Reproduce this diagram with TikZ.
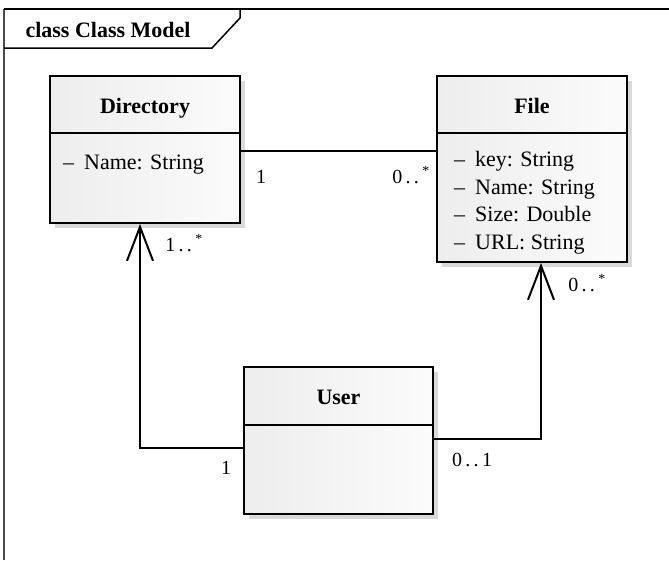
\documentclass[tikz,border=0pt]{standalone}
\usepackage{fontspec}
\setmainfont{Liberation Serif}
\usetikzlibrary{arrows.meta,shadows}
\begin{document}
\begin{tikzpicture}[x=1pt,y=-1pt,
  classbox/.style={draw, line width=2pt, left color=gray!14, right color=gray!3, inner sep=0pt,
    general shadow={fill=gray!30, shadow xshift=5pt, shadow yshift=-5pt}},
  ttl/.style={font=\bfseries\fontsize{22}{26}\selectfont, anchor=base, inner sep=0pt},
  attr/.style={font=\fontsize{22}{26}\selectfont, anchor=base west, inner sep=0pt},
  mult/.style={font=\fontsize{20}{24}\selectfont, anchor=base, inner sep=0pt},
  conn/.style={line width=2pt},
  arr/.style={conn, -{Straight Barb[length=34pt,width=26pt]}}]
\useasboundingbox (0,0) rectangle (669,560);
\fill[white] (0,0) rectangle (669,560);
% frame
\draw[line width=2pt, black!70] (4,560) -- (4,9);
\draw[line width=2pt] (4,9) -- (669,9);
\draw[line width=1.5pt] (4,48) -- (212,48) -- (240,18) -- (240,9);
\node[ttl] (frametitle) at (108,37.5) {class Class Model};
% Directory
\node[classbox, minimum width=190pt, minimum height=147pt] (dir) at (145,149.5) {};
\draw[line width=2pt] (dir.west |- 0,133) coordinate (dirL) -- (dir.east |- 0,133) coordinate (dirR);
\node[ttl] (dirT) at (145,113.5) {Directory};
\node[attr] (dirA1) at (63,169.5) {–\hspace{10pt}Name: String};
% File
\node[classbox, minimum width=190pt, minimum height=186pt] (file) at (532,169) {};
\draw[line width=2pt] (file.west |- 0,133) coordinate (fileL) -- (file.east |- 0,133) coordinate (fileR);
\node[ttl] (fileT) at (532,113.5) {File};
\node[attr] (fileA1) at (454,166.7) {–\hspace{10pt}key: String};
\node[attr] (fileA2) at (454,194.2) {–\hspace{10pt}Name: String};
\node[attr] (fileA3) at (454,221.7) {–\hspace{10pt}Size: Double};
\node[attr] (fileA4) at (454,249.2) {–\hspace{10pt}URL: String};
% User
\node[classbox, minimum width=189pt, minimum height=147pt] (user) at (338.5,440.5) {};
\draw[line width=2pt] (user.west |- 0,425) coordinate (userL) -- (user.east |- 0,425) coordinate (userR);
\node[ttl] (userT) at (338.5,404) {User};
% connectors
\draw[conn] (dir.east |- 0,151) -- (file.west |- 0,151);
\draw[arr] (user.west |- 0,448) -| (140,0 |- dir.south);
\draw[arr] (user.east |- 0,439) -| (541,0 |- file.south);
% multiplicities
\node[mult] (m1) at (261,183.5) {1};
\node[mult] (m2) at (411,183.5) {0\,.\,.\,\textsuperscript{*}};
\node[mult] (m3) at (184,251.5) {1\,.\,.\,\textsuperscript{*}};
\node[mult] (m4) at (587,291.5) {0\,.\,.\,\textsuperscript{*}};
\node[mult] (m5) at (226,474) {1};
\node[mult] (m6) at (472,466) {0\,.\,.\,1};
\end{tikzpicture}
\end{document}
